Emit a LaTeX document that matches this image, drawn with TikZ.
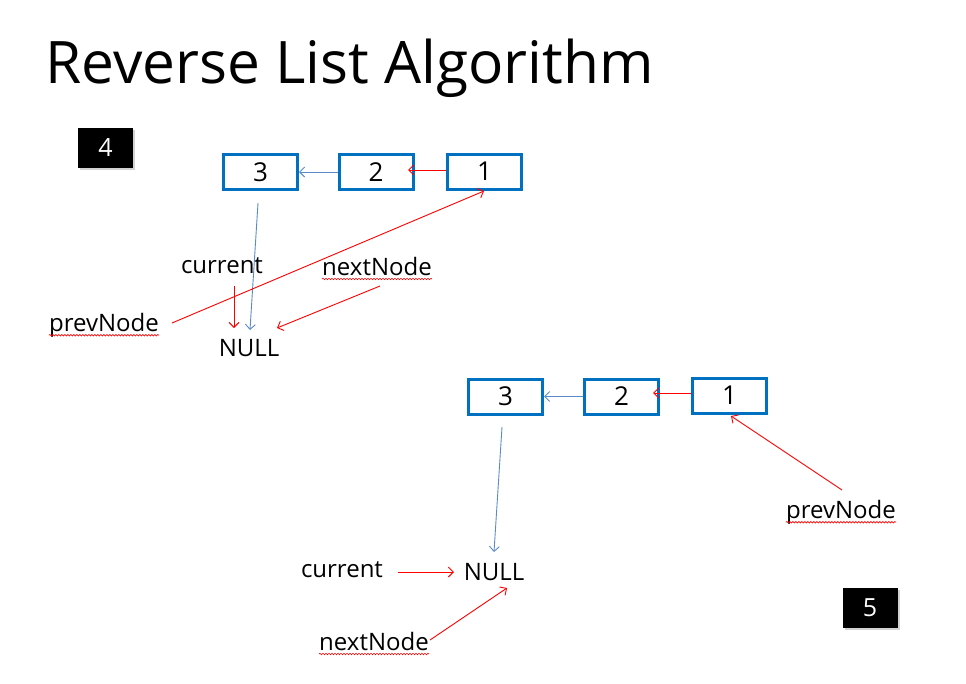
\documentclass[tikz,border=0pt]{standalone}
\usepackage{fontspec}
\setmainfont{Open Sans}
\usetikzlibrary{arrows.meta,decorations.pathmorphing,shadows}
\definecolor{boxblue}{HTML}{0070C0}
\definecolor{linkblue}{HTML}{5B8BC9}
\begin{document}
\begin{tikzpicture}[x=1pt,y=-1pt,
  lbox/.style={draw=boxblue, line width=3pt, minimum width=74pt, minimum height=35pt, inner sep=0pt, font=\fontsize{26}{26}\selectfont},
  numbox/.style={fill=black, text=white, minimum width=55pt, minimum height=40pt, inner sep=0pt, font=\fontsize{25}{25}\selectfont, drop shadow={opacity=0.35, shadow xshift=2pt, shadow yshift=-2pt}},
  lbl/.style={inner sep=0pt, font=\fontsize{24}{24}\selectfont},
  redarr/.style={draw=red, line width=0.9pt, -{Straight Barb[length=5pt,width=10pt]}},
  bluearr/.style={draw=linkblue, line width=0.9pt, -{Straight Barb[length=5pt,width=10pt]}},
  wavy/.style={draw=red, line width=0.6pt, decorate, decoration={snake, segment length=3pt, amplitude=0.8pt}}
]
\useasboundingbox (0,0) rectangle (966,683);
\fill[white] (0,0) rectangle (966,683);

\node[anchor=base west, inner sep=0pt, font=\fontsize{58.6}{58.6}\selectfont] (title) at (45,83) {Reverse List Algorithm};

% ---- step 4 ----
\node[numbox] (n4) at (105.5,148) {4};
\node[lbox] (a3) at (260.5,172) {3};
\node[lbox] (a2) at (376,172) {2};
\node[lbox] (a1) at (484.5,171.5) {1};
\draw[bluearr] (a2.west) -- (a3.east);
\coordinate (a1w) at (446,170);
\coordinate (a2e) at (408,170);
\draw[redarr] (a1w) -- (a2e);

\node[lbl] (cur1) at (222,266) {current};
\node[lbl] (nxt1) at (377,266) {nextNode};
\node[lbl] (prv1) at (104,325) {prevNode};
\node[lbl] (null1) at (249,348) {NULL};

\coordinate (a3s) at (258,203);
\coordinate (null1t) at (250,330);
\draw[bluearr] (a3s) -- (null1t);
\coordinate (cur1s) at (234,286);
\coordinate (cur1e) at (234,328);
\draw[redarr] (cur1s) -- (cur1e);
\coordinate (nxt1s) at (380,286);
\coordinate (nxt1e) at (277,328);
\draw[redarr] (nxt1s) -- (nxt1e);
\coordinate (prv1s) at (172,323);
\coordinate (a1b) at (484,191);
\draw[redarr] (prv1s) -- (a1b);

% ---- step 5 ----
\node[lbox] (b3) at (505.5,396.5) {3};
\node[lbox] (b2) at (621.5,396.5) {2};
\node[lbox] (b1) at (729.5,395.5) {1};
\draw[bluearr] (b2.west) -- (b3.east);
\coordinate (b1w) at (691,393);
\coordinate (b2e) at (653,393);
\draw[redarr] (b1w) -- (b2e);

\node[lbl] (cur2) at (342,570) {current};
\node[lbl] (null2) at (494,572) {NULL};
\node[lbl] (nxt2) at (374,641) {nextNode};
\node[lbl] (prv2) at (841,512) {prevNode};
\node[numbox] (n5) at (870,608) {5};

\coordinate (b3s) at (502,427);
\coordinate (null2t) at (494,552);
\draw[bluearr] (b3s) -- (null2t);
\coordinate (cur2s) at (398,572);
\coordinate (cur2e) at (454,572);
\draw[redarr] (cur2s) -- (cur2e);
\coordinate (nxt2s) at (430,640);
\coordinate (nxt2e) at (507,588);
\draw[redarr] (nxt2s) -- (nxt2e);
\coordinate (prv2s) at (842,490);
\coordinate (b1b) at (731,416);
\draw[redarr] (prv2s) -- (b1b);

% spell-check underlines
\foreach \n in {prv1,nxt1,nxt2,prv2}{
  \draw[wavy] ([yshift=-4pt]\n.base west) -- ([yshift=-4pt]\n.base east);
}
\end{tikzpicture}
\end{document}
